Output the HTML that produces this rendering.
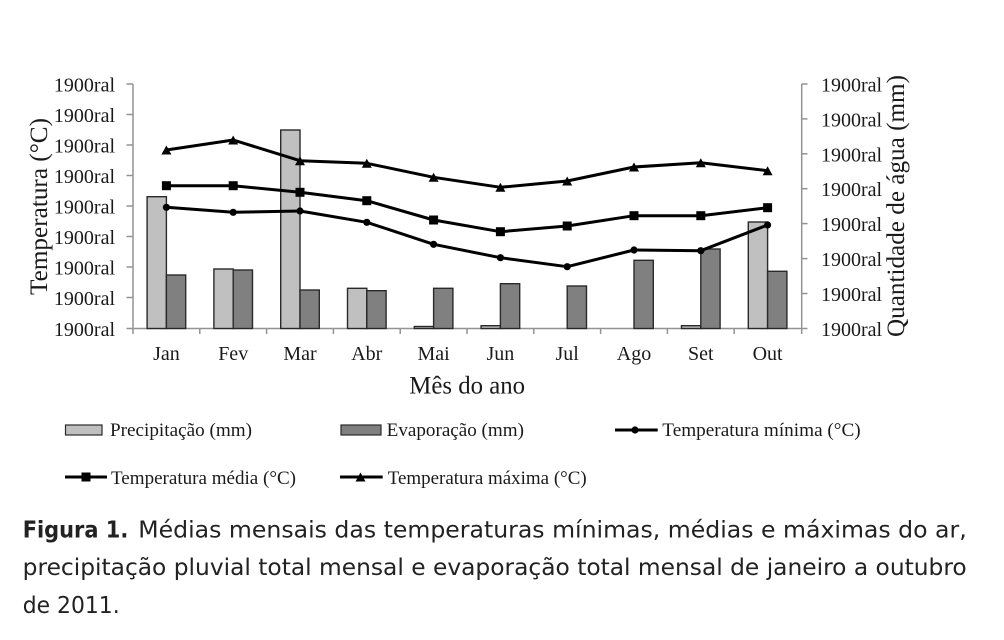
<!DOCTYPE html>
<html>
<head>
<meta charset="utf-8">
<style>
html,body{margin:0;padding:0;background:#fff;}
svg{display:block;}
.t{font-family:"Liberation Serif","Times New Roman",serif;fill:#1a1a1a;}
.c{font-family:"DejaVu Sans","Liberation Sans",sans-serif;fill:#222;}
</style>
</head>
<body>
<svg width="1004" height="640" viewBox="0 0 1004 640" xmlns="http://www.w3.org/2000/svg">
<rect x="0" y="0" width="1004" height="640" fill="#fff"/>

<!-- axes -->
<g stroke="#939393" stroke-width="1.5" fill="none">
  <line x1="133" y1="84" x2="133" y2="328.5"/>
  <line x1="801.7" y1="84" x2="801.7" y2="328.5"/>
  <line x1="133" y1="328.5" x2="801.7" y2="328.5"/>
  <!-- left ticks -->
  <line x1="126.5" y1="84" x2="133" y2="84"/>
  <line x1="126.5" y1="114.5" x2="133" y2="114.5"/>
  <line x1="126.5" y1="145" x2="133" y2="145"/>
  <line x1="126.5" y1="175.5" x2="133" y2="175.5"/>
  <line x1="126.5" y1="206" x2="133" y2="206"/>
  <line x1="126.5" y1="236.5" x2="133" y2="236.5"/>
  <line x1="126.5" y1="267" x2="133" y2="267"/>
  <line x1="126.5" y1="297.5" x2="133" y2="297.5"/>
  <line x1="126.5" y1="328.5" x2="133" y2="328.5"/>
  <!-- right ticks -->
  <line x1="801.7" y1="84" x2="807.5" y2="84"/>
  <line x1="801.7" y1="118.9" x2="807.5" y2="118.9"/>
  <line x1="801.7" y1="153.8" x2="807.5" y2="153.8"/>
  <line x1="801.7" y1="188.7" x2="807.5" y2="188.7"/>
  <line x1="801.7" y1="223.6" x2="807.5" y2="223.6"/>
  <line x1="801.7" y1="258.6" x2="807.5" y2="258.6"/>
  <line x1="801.7" y1="293.5" x2="807.5" y2="293.5"/>
  <line x1="801.7" y1="328.5" x2="807.5" y2="328.5"/>
  <!-- category ticks -->
  <line x1="133" y1="328.5" x2="133" y2="334"/>
  <line x1="199.8" y1="328.5" x2="199.8" y2="334"/>
  <line x1="266.6" y1="328.5" x2="266.6" y2="334"/>
  <line x1="333.4" y1="328.5" x2="333.4" y2="334"/>
  <line x1="400.2" y1="328.5" x2="400.2" y2="334"/>
  <line x1="467" y1="328.5" x2="467" y2="334"/>
  <line x1="533.8" y1="328.5" x2="533.8" y2="334"/>
  <line x1="600.6" y1="328.5" x2="600.6" y2="334"/>
  <line x1="667.4" y1="328.5" x2="667.4" y2="334"/>
  <line x1="734.2" y1="328.5" x2="734.2" y2="334"/>
  <line x1="801.7" y1="328.5" x2="801.7" y2="334"/>
</g>

<!-- left tick labels -->
<g class="t" font-size="20" text-anchor="end">
  <text x="115" y="91.5">1900ral</text>
  <text x="115" y="122">1900ral</text>
  <text x="115" y="152.5">1900ral</text>
  <text x="115" y="183">1900ral</text>
  <text x="115" y="213.5">1900ral</text>
  <text x="115" y="244">1900ral</text>
  <text x="115" y="274.5">1900ral</text>
  <text x="115" y="305">1900ral</text>
  <text x="115" y="336">1900ral</text>
</g>
<!-- right tick labels -->
<g class="t" font-size="20">
  <text x="821" y="91.5">1900ral</text>
  <text x="821" y="126.4">1900ral</text>
  <text x="821" y="161.3">1900ral</text>
  <text x="821" y="196.2">1900ral</text>
  <text x="821" y="231.1">1900ral</text>
  <text x="821" y="266.1">1900ral</text>
  <text x="821" y="301">1900ral</text>
  <text x="821" y="336">1900ral</text>
</g>

<!-- axis titles -->
<text class="t" font-size="25" text-anchor="middle" transform="translate(47,206.5) rotate(-90)" textLength="177" lengthAdjust="spacingAndGlyphs">Temperatura (°C)</text>
<text class="t" font-size="25" text-anchor="middle" transform="translate(904,206) rotate(-90)" textLength="262" lengthAdjust="spacingAndGlyphs">Quantidade de água (mm)</text>
<text class="t" font-size="25" x="409.3" y="393.3" textLength="115.7" lengthAdjust="spacingAndGlyphs">Mês do ano</text>

<!-- month labels -->
<g class="t" font-size="20" text-anchor="middle">
  <text x="166.4" y="360">Jan</text>
  <text x="233.2" y="360">Fev</text>
  <text x="300" y="360">Mar</text>
  <text x="366.8" y="360">Abr</text>
  <text x="433.6" y="360">Mai</text>
  <text x="500.4" y="360">Jun</text>
  <text x="567.2" y="360">Jul</text>
  <text x="634" y="360">Ago</text>
  <text x="700.8" y="360">Set</text>
  <text x="767.6" y="360">Out</text>
</g>

<!-- bars: precipitation -->
<g fill="#c0c0c0" stroke="#2a2a2a" stroke-width="1.4">
  <rect x="147.1" y="196.7" width="19.3" height="131.8"/>
  <rect x="213.9" y="269" width="19.3" height="59.5"/>
  <rect x="280.7" y="130" width="19.3" height="198.5"/>
  <rect x="347.5" y="288.3" width="19.3" height="40.2"/>
  <rect x="414.3" y="326.5" width="19.3" height="2"/>
  <rect x="481.1" y="325.7" width="19.3" height="2.8"/>
  <rect x="681.5" y="325.7" width="19.3" height="2.8"/>
  <rect x="748.3" y="222" width="19.3" height="106.5"/>
</g>
<!-- bars: evaporation -->
<g fill="#808080" stroke="#2a2a2a" stroke-width="1.4">
  <rect x="166.4" y="275" width="19.3" height="53.5"/>
  <rect x="233.2" y="270" width="19.3" height="58.5"/>
  <rect x="300" y="290" width="19.3" height="38.5"/>
  <rect x="366.8" y="290.7" width="19.3" height="37.8"/>
  <rect x="433.6" y="288.3" width="19.3" height="40.2"/>
  <rect x="500.4" y="283.7" width="19.3" height="44.8"/>
  <rect x="567.2" y="286" width="19.3" height="42.5"/>
  <rect x="634" y="260.3" width="19.3" height="68.2"/>
  <rect x="700.8" y="249" width="19.3" height="79.5"/>
  <rect x="767.6" y="271.3" width="19.3" height="57.2"/>
</g>

<!-- lines -->
<g fill="none" stroke="#000" stroke-width="3" stroke-linejoin="round">
  <polyline points="166.4,150 233.2,140 300,160.7 366.8,163.3 433.6,177.3 500.4,187.3 567.2,181 634,167 700.8,162.7 767.6,170.7"/>
  <polyline points="166.4,185.7 233.2,185.7 300,192.3 366.8,200.7 433.6,220 500.4,231.7 567.2,226 634,215.7 700.8,215.7 767.6,207.7"/>
  <polyline points="166.4,207.3 233.2,212.3 300,211 366.8,222.3 433.6,244.3 500.4,257.7 567.2,266.7 634,250 700.8,250.7 767.6,225"/>
</g>
<!-- triangle markers -->
<g fill="#000">
  <polygon points="166.4,145.5 171.4,154.5 161.4,154.5"/>
  <polygon points="233.2,135.5 238.2,144.5 228.2,144.5"/>
  <polygon points="300,156.2 305,165.2 295,165.2"/>
  <polygon points="366.8,158.8 371.8,167.8 361.8,167.8"/>
  <polygon points="433.6,172.8 438.6,181.8 428.6,181.8"/>
  <polygon points="500.4,182.8 505.4,191.8 495.4,191.8"/>
  <polygon points="567.2,176.5 572.2,185.5 562.2,185.5"/>
  <polygon points="634,162.5 639,171.5 629,171.5"/>
  <polygon points="700.8,158.2 705.8,167.2 695.8,167.2"/>
  <polygon points="767.6,166.2 772.6,175.2 762.6,175.2"/>
</g>
<!-- square markers -->
<g fill="#000">
  <rect x="161.9" y="181.2" width="9" height="9"/>
  <rect x="228.7" y="181.2" width="9" height="9"/>
  <rect x="295.5" y="187.8" width="9" height="9"/>
  <rect x="362.3" y="196.2" width="9" height="9"/>
  <rect x="429.1" y="215.5" width="9" height="9"/>
  <rect x="495.9" y="227.2" width="9" height="9"/>
  <rect x="562.7" y="221.5" width="9" height="9"/>
  <rect x="629.5" y="211.2" width="9" height="9"/>
  <rect x="696.3" y="211.2" width="9" height="9"/>
  <rect x="763.1" y="203.2" width="9" height="9"/>
</g>
<!-- circle markers -->
<g fill="#000">
  <circle cx="166.4" cy="207.3" r="3.6"/>
  <circle cx="233.2" cy="212.3" r="3.6"/>
  <circle cx="300" cy="211" r="3.6"/>
  <circle cx="366.8" cy="222.3" r="3.6"/>
  <circle cx="433.6" cy="244.3" r="3.6"/>
  <circle cx="500.4" cy="257.7" r="3.6"/>
  <circle cx="567.2" cy="266.7" r="3.6"/>
  <circle cx="634" cy="250" r="3.6"/>
  <circle cx="700.8" cy="250.7" r="3.6"/>
  <circle cx="767.6" cy="225" r="3.6"/>
</g>

<!-- legend -->
<rect x="65.5" y="425" width="36.5" height="10" fill="#c0c0c0" stroke="#2a2a2a" stroke-width="1.2"/>
<text class="t" font-size="19" x="110" y="436" textLength="142" lengthAdjust="spacingAndGlyphs">Precipitação (mm)</text>
<rect x="341" y="425" width="40" height="10" fill="#808080" stroke="#2a2a2a" stroke-width="1.2"/>
<text class="t" font-size="19" x="386.7" y="436" textLength="137.3" lengthAdjust="spacingAndGlyphs">Evaporação (mm)</text>
<line x1="615" y1="430" x2="657.7" y2="430" stroke="#000" stroke-width="3"/>
<circle cx="635" cy="430" r="3.6" fill="#000"/>
<text class="t" font-size="19" x="662.3" y="436" textLength="198.4" lengthAdjust="spacingAndGlyphs">Temperatura mínima (°C)</text>

<line x1="65" y1="477" x2="107" y2="477" stroke="#000" stroke-width="3"/>
<rect x="81.5" y="472.5" width="9" height="9" fill="#000"/>
<text class="t" font-size="19" x="111" y="484" textLength="185" lengthAdjust="spacingAndGlyphs">Temperatura média (°C)</text>
<line x1="340" y1="477" x2="382.7" y2="477" stroke="#000" stroke-width="3"/>
<polygon points="360.5,472.5 365.5,481.5 355.5,481.5" fill="#000"/>
<text class="t" font-size="19" x="387.7" y="484" textLength="199" lengthAdjust="spacingAndGlyphs">Temperatura máxima (°C)</text>

<!-- caption -->
<text class="c" font-size="23" font-weight="bold" x="22.7" y="537.3" textLength="105.6" lengthAdjust="spacingAndGlyphs">Figura 1.</text>
<text class="c" font-size="23" x="138.3" y="537.3" textLength="828.4" lengthAdjust="spacingAndGlyphs">Médias mensais das temperaturas mínimas, médias e máximas do ar,</text>
<text class="c" font-size="23" x="22.7" y="575" textLength="944" lengthAdjust="spacingAndGlyphs">precipitação pluvial total mensal e evaporação total mensal de janeiro a outubro</text>
<text class="c" font-size="23" x="22.7" y="613" textLength="97" lengthAdjust="spacingAndGlyphs">de 2011.</text>
</svg>
</body>
</html>
